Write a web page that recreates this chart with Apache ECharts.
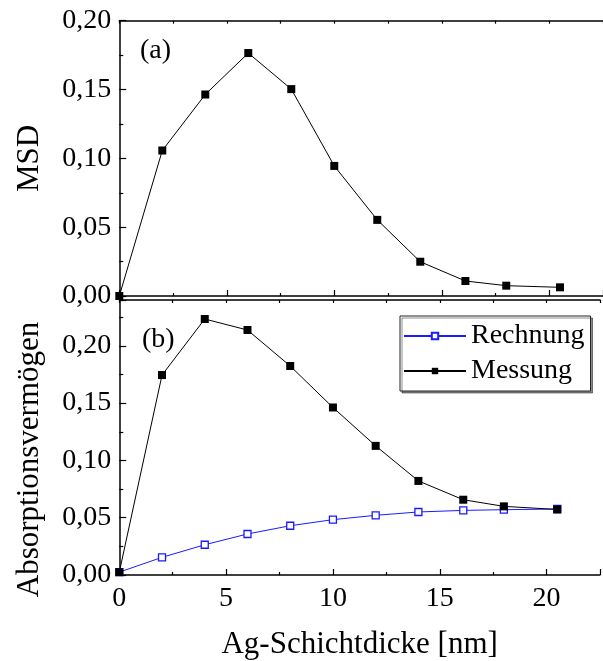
<!DOCTYPE html>
<html>
<head>
<meta charset="utf-8">
<script src="https://cdn.jsdelivr.net/npm/echarts@6/dist/echarts.min.js"></script>
<style>
  html, body { margin: 0; padding: 0; background: #fff; }
  #chart { width: 603px; height: 661px; }
</style>
</head>
<body>
<div id="chart"></div>
<script>
// Ag layer thickness [nm]
const thickness = [0, 2, 4, 6, 8, 10, 12, 14, 16.1, 18, 20.5];
// (a) MSD
const msd = [0, 0.1057, 0.1464, 0.1765, 0.1503, 0.0945, 0.0553, 0.0249, 0.0109, 0.0075, 0.0063];
// (b) absorption: measured and calculated
const messung = [0.0025, 0.1745, 0.2234, 0.2138, 0.1824, 0.1462, 0.1127, 0.0821, 0.0657, 0.0599, 0.0572];
const rechnung = [0.0025, 0.0154, 0.0264, 0.0358, 0.0430, 0.0483, 0.0521, 0.0550, 0.0564, 0.0570, 0.0576];

const SERIF = "'Liberation Serif', 'Times New Roman', serif";
const pairs = ys => thickness.map((x, i) => [x, ys[i]]);

const chart = echarts.init(document.getElementById('chart'));

const yLabel = v => {
  const k = v / 0.05;
  return Math.abs(k - Math.round(k)) < 1e-6 ? v.toFixed(2).replace('.', ',') : '';
};
const xLabel = v => (v % 5 === 0 ? String(v) : '');

const axisLine = { lineStyle: { color: '#000', width: 1.5 } };

function xAx(gridIndex, position, withLabels) {
  return {
    type: 'value', gridIndex, position,
    min: 0, max: 22.5, interval: 5,
    axisLine,
    axisTick: { inside: true, length: position === 'top' ? 3 : 6, lineStyle: { color: '#000', width: 1.2 } },
    minorTick: { show: true, splitNumber: 2, length: 3, lineStyle: { color: '#000', width: 1.2 } },
    splitLine: { show: false },
    axisLabel: {
      show: withLabels, formatter: xLabel, margin: 10,
      color: '#000', fontSize: 28, fontFamily: SERIF
    }
  };
}

function yAx(gridIndex, max, name, extra) {
  return Object.assign({
    type: 'value', gridIndex,
    min: 0, max, interval: 0.05,
    axisLine,
    axisTick: { inside: true, length: 7, lineStyle: { color: '#000', width: 1.2 } },
    minorTick: { show: true, splitNumber: 2, length: 4, lineStyle: { color: '#000', width: 1.2 } },
    splitLine: { show: false },
    axisLabel: { formatter: yLabel, margin: 8, color: '#000', fontSize: 28, fontFamily: SERIF },
    name, nameLocation: 'middle', nameGap: 74,
    nameTextStyle: { color: '#000', fontSize: 31, fontFamily: SERIF }
  }, extra || {});
}

const option = {
  backgroundColor: '#fff',
  animation: false,
  grid: [
    { left: 119.3, top: 20.7, width: 491.6, height: 275.3 },
    { left: 119.3, top: 300, width: 491.6, height: 275.3 }
  ],
  xAxis: [
    xAx(0, 'bottom', false),
    xAx(0, 'top', false),
    Object.assign(xAx(1, 'bottom', true), {
      name: 'Ag-Schichtdicke [nm]', nameLocation: 'middle', nameGap: 54,
      nameTextStyle: { color: '#000', fontSize: 31, fontFamily: SERIF }
    }),
    xAx(1, 'top', false)
  ],
  yAxis: [
    yAx(0, 0.2, 'MSD'),
    yAx(1, 0.24, 'Absorptionsvermögen', {
      nameTextStyle: { color: '#000', fontSize: 31, fontFamily: SERIF, padding: [0, 44, 0, 0] }
    })
  ],
  legend: {
    orient: 'vertical',
    left: 400, top: 316,
    padding: [5, 6, 5, 3],
    itemWidth: 62, itemHeight: 8, itemGap: 5,
    data: ['Rechnung', 'Messung'],
    textStyle: { color: '#000', fontSize: 28, lineHeight: 30, fontFamily: SERIF },
    backgroundColor: '#fff',
    borderColor: '#222', borderWidth: 1,
    shadowColor: 'rgba(0,0,0,0.45)', shadowOffsetX: 2, shadowOffsetY: 2, shadowBlur: 0
  },
  graphic: [
    { type: 'text', left: 140, top: 37, style: { text: '(a)', fontSize: 28, fontFamily: SERIF, fill: '#000' } },
    { type: 'text', left: 142, top: 326, style: { text: '(b)', fontSize: 28, fontFamily: SERIF, fill: '#000' } }
  ],
  series: [
    {
      name: 'MSD', type: 'line', xAxisIndex: 0, yAxisIndex: 0,
      data: pairs(msd),
      symbol: 'rect', symbolSize: 8,
      lineStyle: { color: '#000', width: 1 },
      itemStyle: { color: '#000' }
    },
    {
      name: 'Rechnung', type: 'line', xAxisIndex: 2, yAxisIndex: 1,
      data: pairs(rechnung),
      symbol: 'rect', symbolSize: 7,
      lineStyle: { color: '#1a1aff', width: 1 },
      itemStyle: { color: '#fff', borderColor: '#1a1aff', borderWidth: 1.3 }
    },
    {
      name: 'Messung', type: 'line', xAxisIndex: 2, yAxisIndex: 1,
      data: pairs(messung),
      symbol: 'rect', symbolSize: 8,
      lineStyle: { color: '#000', width: 1 },
      itemStyle: { color: '#000' }
    }
  ]
};

chart.setOption(option);
</script>
</body>
</html>
